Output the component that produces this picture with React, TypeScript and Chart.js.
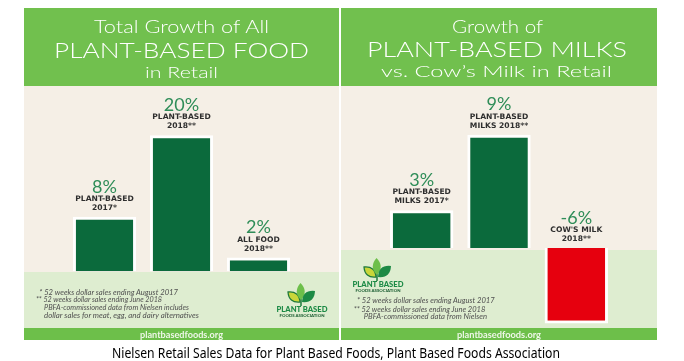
import React, { useEffect, useRef } from "react";
import { Chart, registerables } from "chart.js";

Chart.register(...registerables);

// ---------- data ----------
const foodCategories = ["Plant-based 2017", "Plant-based 2018", "All food 2018"];
const foodValues = [8, 20, 2];
const foodLabelLines = [
  ["PLANT-BASED", "2017*"],
  ["PLANT-BASED", "2018**"],
  ["ALL FOOD", "2018**"],
];

const milkCategories = ["Plant-based milks 2017", "Plant-based milks 2018", "Cow's milk 2018"];
const milkValues = [3, 9, -6];
const milkLabelLines = [
  ["PLANT-BASED", "MILKS 2017*"],
  ["PLANT-BASED", "MILKS 2018**"],
  ["COW'S MILK", "2018**"],
];

// ---------- styles ----------
const HEADER_GREEN = "#71c04e";
const STRIP_GREEN = "#6dbf4a";
const BEIGE = "#f5efe6";
const FOOTER = "#deedd0";
const BAR_GREEN = "#0b6a3c";
const BAR_RED = "#e6000e";
const PCT_GREEN = "#2f8d58";
const LABEL_DARK = "#2e2e2e";

const panelPlugin = {
  id: "panelDecor",
  beforeDraw(chart: any, _args: any, opts: any) {
    const { ctx, width, height } = chart;
    ctx.save();
    ctx.fillStyle = BEIGE;
    ctx.fillRect(0, 0, width, height);
    ctx.fillStyle = FOOTER;
    ctx.fillRect(0, opts.footerTop, width, height - opts.footerTop);
    ctx.restore();
  },
  afterDatasetsDraw(chart: any, _args: any, opts: any) {
    const ctx = chart.ctx;
    const meta = chart.getDatasetMeta(0);
    const values = chart.data.datasets[0].data as number[];
    ctx.save();
    ctx.textAlign = "center";
    ctx.textBaseline = "middle";
    meta.data.forEach((bar: any, i: number) => {
      const { x, y, base } = bar.getProps(["x", "y", "base"], true);
      const top = Math.min(y, base);
      ctx.fillStyle = PCT_GREEN;
      ctx.font = '400 18px Lato, "Noto Sans", sans-serif';
      ctx.fillText(`${values[i]}%`, x, top - 30);
      ctx.fillStyle = LABEL_DARK;
      ctx.font = 'bold 7.6px "DejaVu Sans", sans-serif';
      ctx.fillText(opts.lines[i][0], x, top - 18);
      ctx.fillText(opts.lines[i][1], x, top - 9);
    });
    ctx.restore();
  },
};

type PanelProps = {
  left: number;
  width: number;
  categories: string[];
  values: number[];
  lines: string[][];
  yMin: number;
  yMax: number;
  footerTop: number;
};

function BarPanel(p: PanelProps) {
  const ref = useRef<HTMLCanvasElement | null>(null);
  useEffect(() => {
    if (!ref.current) return;
    const chart = new Chart(ref.current, {
      type: "bar",
      data: {
        labels: p.categories,
        datasets: [
          {
            data: p.values,
            backgroundColor: p.values.map((v) => (v < 0 ? BAR_RED : BAR_GREEN)),
            borderColor: "#ffffff",
            borderWidth: 3,
            borderSkipped: "start",
            barPercentage: 0.82,
            categoryPercentage: 1,
          },
        ],
      },
      options: {
        animation: false,
        responsive: false,
        maintainAspectRatio: false,
        devicePixelRatio: 1,
        layout: { padding: { left: 42, right: 42, top: 0, bottom: 0 } },
        scales: {
          x: { display: false },
          y: { display: false, min: p.yMin, max: p.yMax },
        },
        plugins: {
          legend: { display: false },
          tooltip: { enabled: false },
          // @ts-ignore
          panelDecor: { footerTop: p.footerTop, lines: p.lines },
        },
      },
      plugins: [panelPlugin as any],
    });
    return () => chart.destroy();
  }, []);
  return (
    <canvas
      ref={ref}
      width={p.width}
      height={242}
      style={{ position: "absolute", left: p.left, top: 86, width: p.width, height: 242 }}
    />
  );
}

function leafPath(bx: number, by: number, tx: number, ty: number, w: number) {
  const mx = (bx + tx) / 2;
  const my = (by + ty) / 2;
  const dx = tx - bx;
  const dy = ty - by;
  const len = Math.hypot(dx, dy);
  const nx = (-dy / len) * w;
  const ny = (dx / len) * w;
  return `M${bx},${by} Q${mx + nx},${my + ny} ${tx},${ty} Q${mx - nx},${my - ny} ${bx},${by} Z`;
}

function Logo({ x, y }: { x: number; y: number }) {
  return (
    <g transform={`translate(${x},${y})`}>
      <path d="M14,23 L14,16" stroke="#1c7a3e" strokeWidth={1.5} />
      <path d={leafPath(13, 19, 1, 9, 8)} fill="#c9d63a" stroke="#1f7a3a" strokeWidth={1.3} />
      <path d={leafPath(14, 17, 13.5, 0, 8)} fill="#6dbf4a" />
      <path d={leafPath(15, 19, 28, 8, 9)} fill="#1d8a45" />
      <text
        x={15}
        y={29.3}
        fontFamily="Lato, 'DejaVu Sans', sans-serif"
        fontWeight={900}
        fontSize={7}
        fill="#1c8a45"
        textAnchor="middle"
        textLength={51}
        lengthAdjust="spacingAndGlyphs"
      >
        PLANT BASED
      </text>
      <text
        x={15}
        y={33.5}
        fontFamily="Lato, 'DejaVu Sans', sans-serif"
        fontWeight={900}
        fontSize={3.6}
        fill="#1c5e33"
        textAnchor="middle"
        textLength={45}
        lengthAdjust="spacingAndGlyphs"
      >
        FOODS ASSOCIATION
      </text>
    </g>
  );
}

function T(props: any) {
  const { children, len, ...rest } = props;
  return (
    <text textLength={len} lengthAdjust="spacingAndGlyphs" {...rest}>
      {children}
    </text>
  );
}

export default function App() {
  const headFont = "Lato, 'Noto Sans', sans-serif";
  const noteProps = {
    fontFamily: "Lato, 'Noto Sans', sans-serif",
    fontStyle: "italic",
    fontSize: 7.3,
    fill: "#505050",
  };
  return (
    <div
      style={{
        position: "absolute",
        left: 0,
        top: 0,
        width: 684,
        height: 361,
        background: "#ffffff",
        overflow: "hidden",
      }}
    >
      <BarPanel
        left={24}
        width={315}
        categories={foodCategories}
        values={foodValues}
        lines={foodLabelLines}
        yMin={-8.35}
        yMax={27.24}
        footerTop={186}
      />
      <BarPanel
        left={341}
        width={316}
        categories={milkCategories}
        values={milkValues}
        lines={milkLabelLines}
        yMin={-6.35}
        yMax={12.86}
        footerTop={164}
      />
      <svg
        width={684}
        height={361}
        style={{ position: "absolute", left: 0, top: 0, pointerEvents: "none" }}
      >
        {/* headers */}
        <rect x={24} y={8} width={315} height={78} fill={HEADER_GREEN} />
        <rect x={341} y={8} width={316} height={78} fill={HEADER_GREEN} />
        <g fill="#ffffff" fontFamily={headFont} fontWeight={300} textAnchor="middle">
          <T x={181.5} y={33} fontSize={18.5} len={175}>Total Growth of All</T>
          <T x={181.5} y={58} fontSize={22} len={255}>PLANT-BASED FOOD</T>
          <T x={181.5} y={78} fontSize={16} len={73}>in Retail</T>
          <T x={497.5} y={33} fontSize={18.5} len={91}>Growth of</T>
          <T x={497} y={57} fontSize={22} len={260}>PLANT-BASED MILKS</T>
          <T x={496.5} y={77} fontSize={16.5} len={231}>vs. Cow’s Milk in Retail</T>
        </g>

        {/* footnotes */}
        <g {...noteProps}>
          <T x={39.3} y={294.5} len={138.7}>* 52 weeks dollar sales ending August 2017</T>
          <T x={36} y={302} len={126}>** 52 weeks dollar sales ending June 2018</T>
          <T x={44} y={310} len={145}>PBFA-commissioned data from Nielsen includes</T>
          <T x={44} y={318.3} len={155}>dollar sales for meat, egg, and dairy alternatives</T>
          <T x={357} y={303.3} len={137.7}>* 52 weeks dollar sales ending August 2017</T>
          <T x={353.7} y={311.7} len={131.6}>** 52 weeks dollar sales ending June 2018</T>
          <T x={363.7} y={319.3} len={123.3}>PBFA-commissioned data from Nielsen</T>
        </g>

        <Logo x={287} y={283} />
        <Logo x={363} y={258} />

        {/* bottom strips */}
        <rect x={24} y={328} width={315} height={12} fill={STRIP_GREEN} />
        <rect x={341} y={328} width={316} height={12} fill={STRIP_GREEN} />
        <g fill="#eef7e8" fontFamily="Lato, 'Noto Sans', sans-serif" fontWeight={700} fontSize={9.5} textAnchor="middle">
          <T x={181.5} y={338} len={83}>plantbasedfoods.org</T>
          <T x={499} y={338} len={84}>plantbasedfoods.org</T>
        </g>

        {/* caption */}
        <T
          x={336}
          y={358}
          fontFamily="'Noto Sans', 'Open Sans', sans-serif"
          fontSize={13.5}
          fill="#000000"
          textAnchor="middle"
          len={448}
        >
          Nielsen Retail Sales Data for Plant Based Foods, Plant Based Foods Association
        </T>
      </svg>
    </div>
  );
}
